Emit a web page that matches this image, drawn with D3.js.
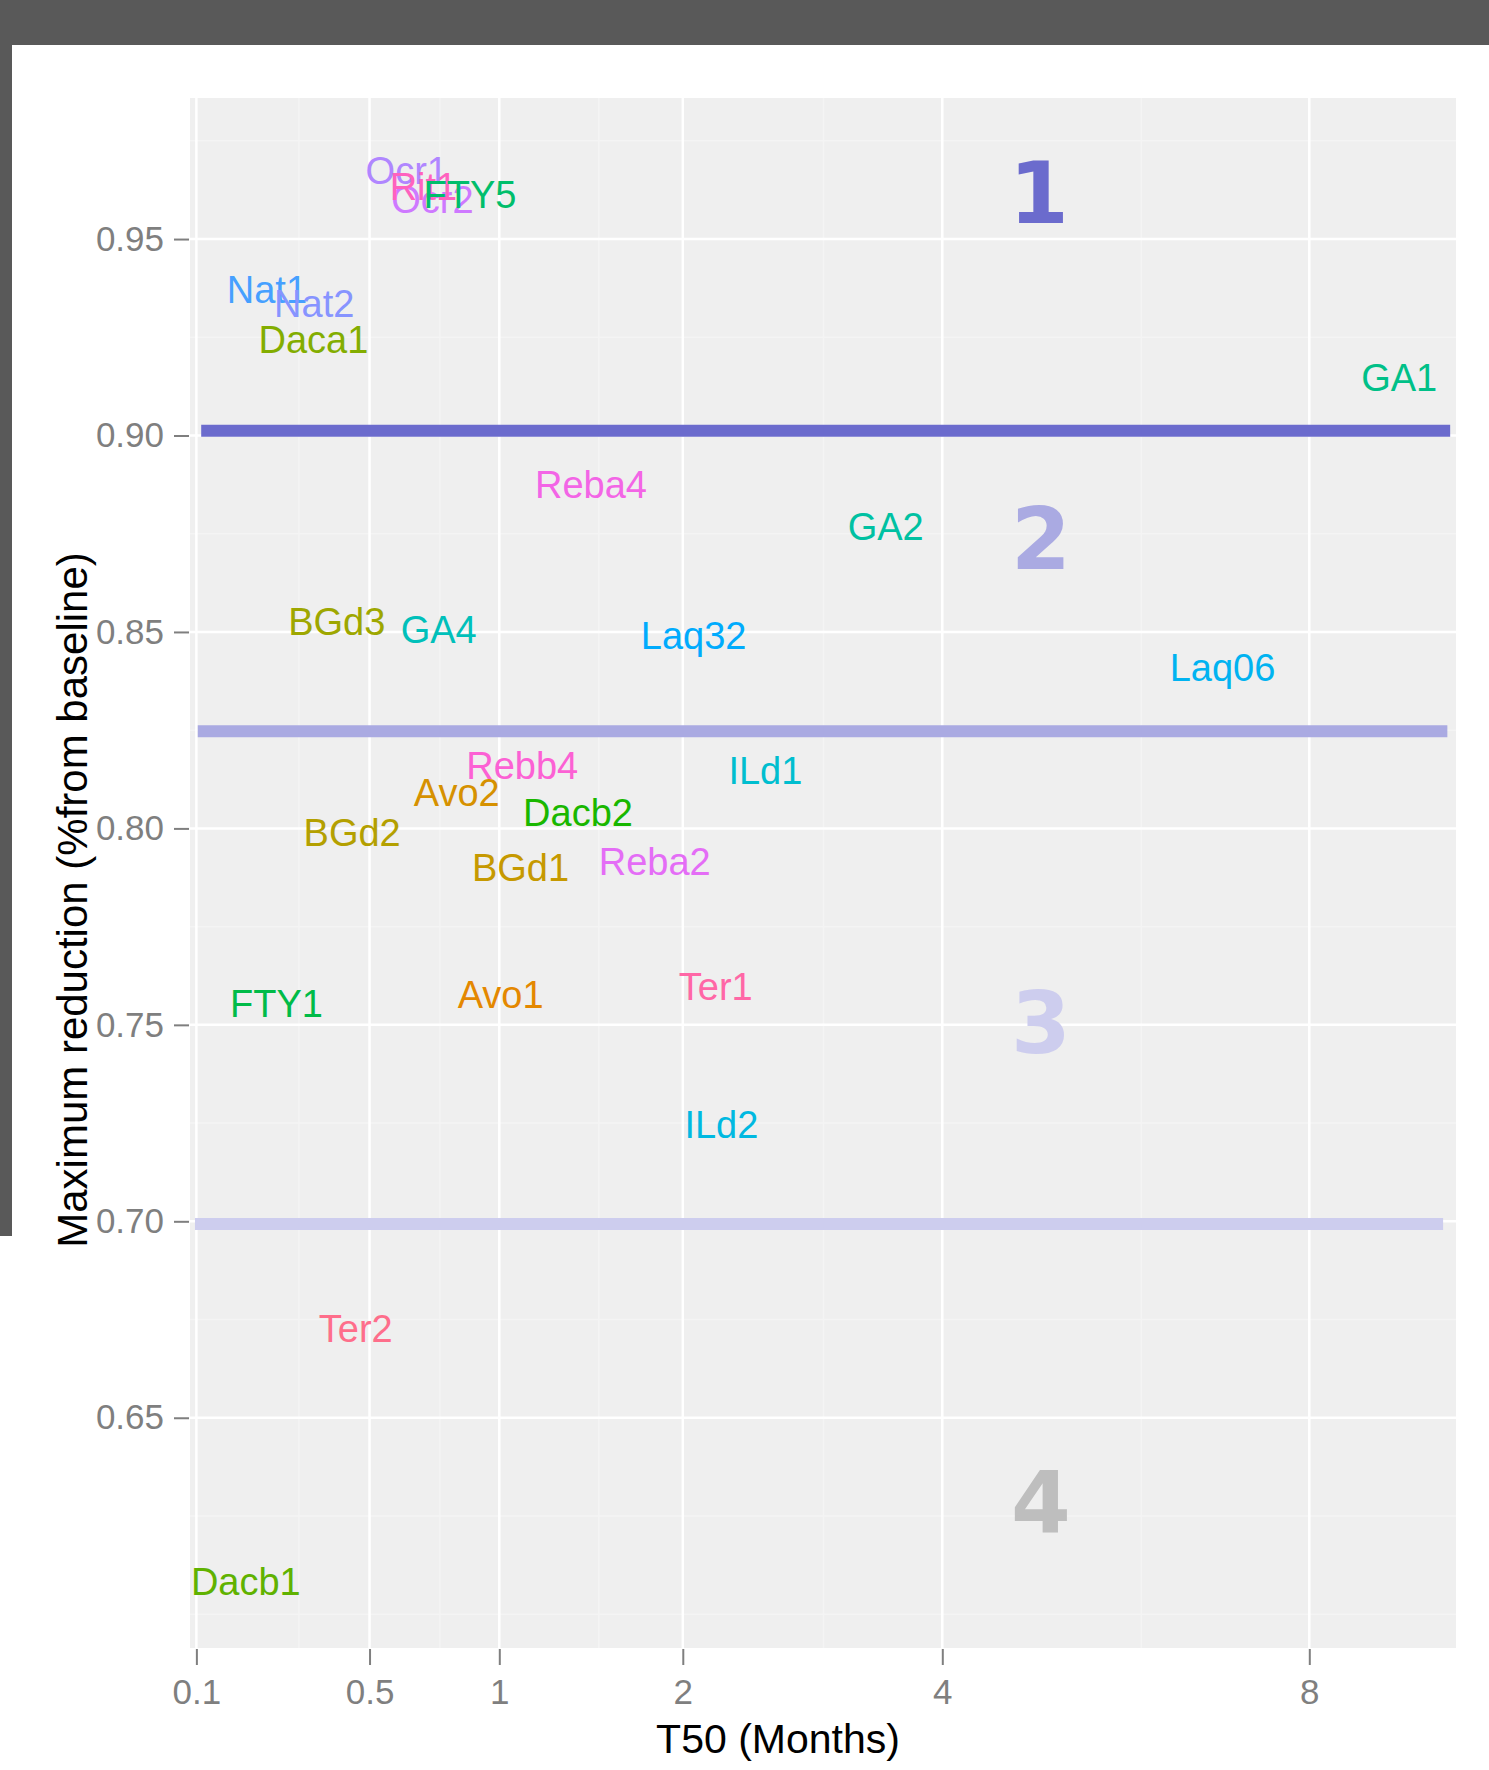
<!DOCTYPE html>
<html>
<head>
<meta charset="utf-8">
<style>
  body { margin: 0; background: #fff; }
  svg text { font-family: "Liberation Sans", Arial, sans-serif; }
  .tick text { fill: #7f7f7f; font-size: 35px; }
  .tick line { stroke: #7f7f7f; stroke-width: 2; }
  .lbl { font-size: 38px; text-anchor: middle; }
  .zone { font-family: "DejaVu Sans", sans-serif !important; font-weight: bold; font-size: 86px; text-anchor: middle; }
</style>
</head>
<body>
<svg class="chart"></svg>

<script src="https://d3js.org/d3.v7.min.js"></script>
<script>
// labels and their (T50, max reduction) positions
const drugs = ["Ocr1", "Ocr2", "Rit1", "FTY5", "Nat1", "Nat2", "Daca1", "GA1", "Reba4", "GA2",
               "BGd3", "GA4", "Laq32", "Laq06", "Rebb4", "ILd1", "Avo2", "Dacb2", "BGd2", "BGd1",
               "Reba2", "FTY1", "Avo1", "Ter1", "ILd2", "Ter2", "Dacb1"];
const t50 = [0.626, 0.721, 0.687, 0.872, 0.226, 0.339, 0.337, 9.19, 1.457, 3.505,
             0.401, 0.745, 2.07, 6.93, 1.106, 2.562, 0.817, 1.387, 0.446, 1.098,
             1.825, 0.247, 1.006, 2.216, 2.254, 0.457, 0.183];
const maxRed = [0.9674, 0.9600, 0.9634, 0.9615, 0.9373, 0.9337, 0.9244, 0.9148, 0.8876, 0.8770,
                0.8526, 0.8506, 0.8491, 0.8411, 0.8161, 0.8147, 0.8092, 0.8040, 0.7991, 0.7902,
                0.7917, 0.7555, 0.7578, 0.7598, 0.7247, 0.6727, 0.6083];

// class cut lines and zone numbers
const cutY = [0.9012, 0.8247, 0.6993];
const cutFrom = [0.107, 0.102, 0.098];
const cutTo = [9.90, 9.86, 9.80];
const zoneNames = ["1", "2", "3", "4"];
const zoneX = [4.92, 4.94, 4.94, 4.94];
const zoneY = [0.962, 0.8738, 0.7508, 0.6287];

const xTicks = [0.1, 0.5, 1, 2, 4, 8];
const xMinor = [0.3, 0.75, 1.5, 3, 6];
const yTicks = [0.65, 0.70, 0.75, 0.80, 0.85, 0.90, 0.95];
const yMinor = [0.6, 0.625, 0.675, 0.725, 0.775, 0.825, 0.875, 0.925, 0.975];

const width = 1489, height = 1770;
const panel = {left: 190, right: 1456, top: 98, bottom: 1648};

// ggplot-ish hue palette (polarLUV), 29 groups with the first two unused
function hueColor(h) {
    const l = 65, c = 100, hr = h * Math.PI / 180;
    const U = c * Math.cos(hr), V = c * Math.sin(hr);
    const Xn = 95.047, Yn = 100, Zn = 108.883;
    const Y = Yn * Math.pow((l + 16) / 116, 3);
    const t = Xn + 15 * Yn + 3 * Zn;
    const u = U / (13 * l) + 4 * Xn / t, v = V / (13 * l) + 9 * Yn / t;
    const X = 9 * Y * u / (4 * v);
    const Z = -X / 3 - 5 * Y + 3 * Y / v;
    const lin = [3.240479 * X - 1.537150 * Y - 0.498535 * Z,
                 -0.969256 * X + 1.875992 * Y + 0.041556 * Z,
                 0.055648 * X - 0.204043 * Y + 1.057311 * Z].map(d => d / 100);
    const gam = d => d <= 0.0031308 ? 12.92 * d : 1.055 * Math.pow(d, 1 / 2.4) - 0.055;
    const ch = lin.map(d => Math.round(255 * Math.max(0, Math.min(1, gam(d)))));
    return d3.rgb(ch[0], ch[1], ch[2]).formatHex();
}
const sorted = drugs.slice().sort((a, b) => a.toLowerCase() < b.toLowerCase() ? -1 : 1);
const nGroups = 29;
const color = d3.scaleOrdinal()
    .domain(sorted)
    .range(sorted.map((d, i) => hueColor(15 + (i + 2) * 360 / nGroups)));

const zoneColor = ["#6b6bcd", "#aaaae2", "#cdcdee", "#bebebe"];

let svg = d3.select(".chart")
    .attr("width", width)
    .attr("height", height);

// dark frame from the screenshot
svg.append("rect").attr("width", width).attr("height", 45).attr("fill", "#595959");
svg.append("rect").attr("width", 12).attr("height", 1236).attr("fill", "#595959");

var x = d3.scaleSqrt().domain([0.0911, 9.983]).range([panel.left, panel.right]);
var y = d3.scaleLinear().domain([0.5914, 0.9859]).range([panel.bottom, panel.top]);

svg.append("rect")
    .attr("x", panel.left).attr("y", panel.top)
    .attr("width", panel.right - panel.left).attr("height", panel.bottom - panel.top)
    .attr("fill", "#efefef");

// grid
let grid = svg.append("g");
grid.selectAll(".vmin").data(xMinor).join("line")
    .attr("x1", d => x(d)).attr("x2", d => x(d))
    .attr("y1", panel.top).attr("y2", panel.bottom)
    .attr("stroke", "#f4f4f4").attr("stroke-width", 1.5);
grid.selectAll(".hmin").data(yMinor).join("line")
    .attr("y1", d => y(d)).attr("y2", d => y(d))
    .attr("x1", panel.left).attr("x2", panel.right)
    .attr("stroke", "#f4f4f4").attr("stroke-width", 1.5);
grid.selectAll(".vmaj").data(xTicks).join("line")
    .attr("x1", d => x(d)).attr("x2", d => x(d))
    .attr("y1", panel.top).attr("y2", panel.bottom)
    .attr("stroke", "#fff").attr("stroke-width", 2.5);
grid.selectAll(".hmaj").data(yTicks).join("line")
    .attr("y1", d => y(d)).attr("y2", d => y(d))
    .attr("x1", panel.left).attr("x2", panel.right)
    .attr("stroke", "#fff").attr("stroke-width", 2.5);

// axes
var xAxis = d3.axisBottom(x).tickValues(xTicks).tickFormat(d => String(d))
    .tickSize(16).tickPadding(14);
svg.append("g")
    .attr("transform", "translate(0," + (panel.bottom + 1) + ")")
    .call(xAxis)
    .call(g => g.select(".domain").remove());

var yAxis = d3.axisLeft(y).tickValues(yTicks).tickFormat(d3.format(".2f"))
    .tickSize(15).tickPadding(10);
svg.append("g")
    .attr("transform", "translate(" + (panel.left - 1) + ",0)")
    .call(yAxis)
    .call(g => g.select(".domain").remove());

svg.append("text")
    .attr("x", 778).attr("y", 1753)
    .attr("text-anchor", "middle")
    .style("font-size", "41px")
    .text("T50 (Months)");
svg.append("text")
    .attr("transform", "translate(87,900) rotate(-90)")
    .attr("text-anchor", "middle")
    .style("font-size", "42px")
    .text("Maximum reduction (%from baseline)");

// cut lines
svg.selectAll(".cut").data(cutY).join("line")
    .attr("x1", (d, i) => x(cutFrom[i])).attr("x2", (d, i) => x(cutTo[i]))
    .attr("y1", d => y(d)).attr("y2", d => y(d))
    .attr("stroke", (d, i) => zoneColor[i])
    .attr("stroke-width", 12);

// zone numbers
svg.selectAll(".zone").data(zoneNames).join("text")
    .attr("class", "zone")
    .attr("x", (d, i) => x(zoneX[i]))
    .attr("y", (d, i) => y(zoneY[i]))
    .attr("dy", "0.36em")
    .attr("fill", (d, i) => zoneColor[i])
    .text(d => d);

// drug labels
svg.selectAll(".lbl").data(drugs).join("text")
    .attr("class", "lbl")
    .attr("x", (d, i) => x(t50[i]))
    .attr("y", (d, i) => y(maxRed[i]))
    .attr("dy", "0.36em")
    .attr("fill", d => color(d))
    .text(d => d);
</script>
</body>
</html>
